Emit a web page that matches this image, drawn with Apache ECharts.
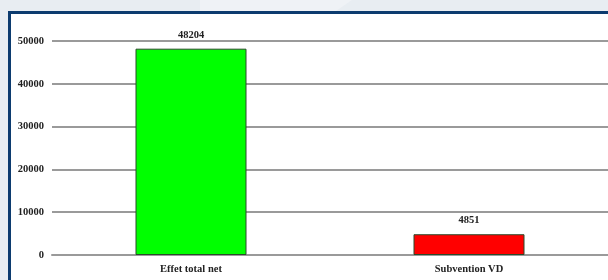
<!DOCTYPE html>
<html>
<head>
<meta charset="utf-8">
<script src="https://cdn.jsdelivr.net/npm/echarts@6/dist/echarts.min.js"></script>
<style>
  html, body { margin: 0; padding: 0; background: #e8edf2; }
  #chart { width: 608px; height: 280px; }
</style>
</head>
<body>
<div id="chart"></div>
<script>
var categories = ["Effet total net", "Subvention VD"];
var values = [48204, 4851];
var barColors = ["#00ff00", "#ff0000"];
var yTicks = [0, 10000, 20000, 30000, 40000, 50000];

var myChart = echarts.init(document.getElementById("chart"), null, { renderer: "canvas" });
var font = { fontFamily: "Liberation Serif", fontWeight: "bold", fontSize: 10.5, color: "#222" };

var option = {
  backgroundColor: "#e8edf2",
  animation: false,
  graphic: [
    // soft lighter swoosh in the header band
    { type: "polygon", z: -10, shape: { points: [[200, 0], [352, 0], [336, 11], [200, 11]] },
      style: { fill: "#eff2f6" } },
    // white panel
    { type: "rect", z: -9, shape: { x: 9, y: 12, width: 600, height: 270 },
      style: { fill: "#ffffff" } },
    // dark blue frame on the left and top
    { type: "polyline", z: -8, shape: { points: [[9.5, 282], [9.5, 12.5], [610, 12.5]] },
      style: { stroke: "#0c3b6f", lineWidth: 3, fill: null } }
  ],
  grid: { left: 52, top: 41, width: 560, bottom: 25, containLabel: false },
  xAxis: {
    type: "category",
    data: categories,
    axisLine: { show: true, lineStyle: { color: "#9a9a9a", width: 2 } },
    axisTick: { show: false },
    axisLabel: Object.assign({ margin: 9 }, font)
  },
  yAxis: {
    type: "value",
    min: yTicks[0],
    max: yTicks[yTicks.length - 1],
    interval: 10000,
    axisLine: { show: false },
    axisTick: { show: false },
    axisLabel: Object.assign({ margin: 8, formatter: function (v) { return String(v); } }, font),
    splitLine: { lineStyle: { color: "#9a9a9a", width: 2 } }
  },
  series: [{
    type: "bar",
    barWidth: 111,
    data: values.map(function (v, i) {
      return { value: v, itemStyle: { color: barColors[i] } };
    }),
    itemStyle: { borderColor: "#2a4a2a", borderWidth: 1 },
    label: Object.assign({ show: true, position: "top", distance: 8 }, font)
  }]
};
myChart.setOption(option);
</script>
</body>
</html>
